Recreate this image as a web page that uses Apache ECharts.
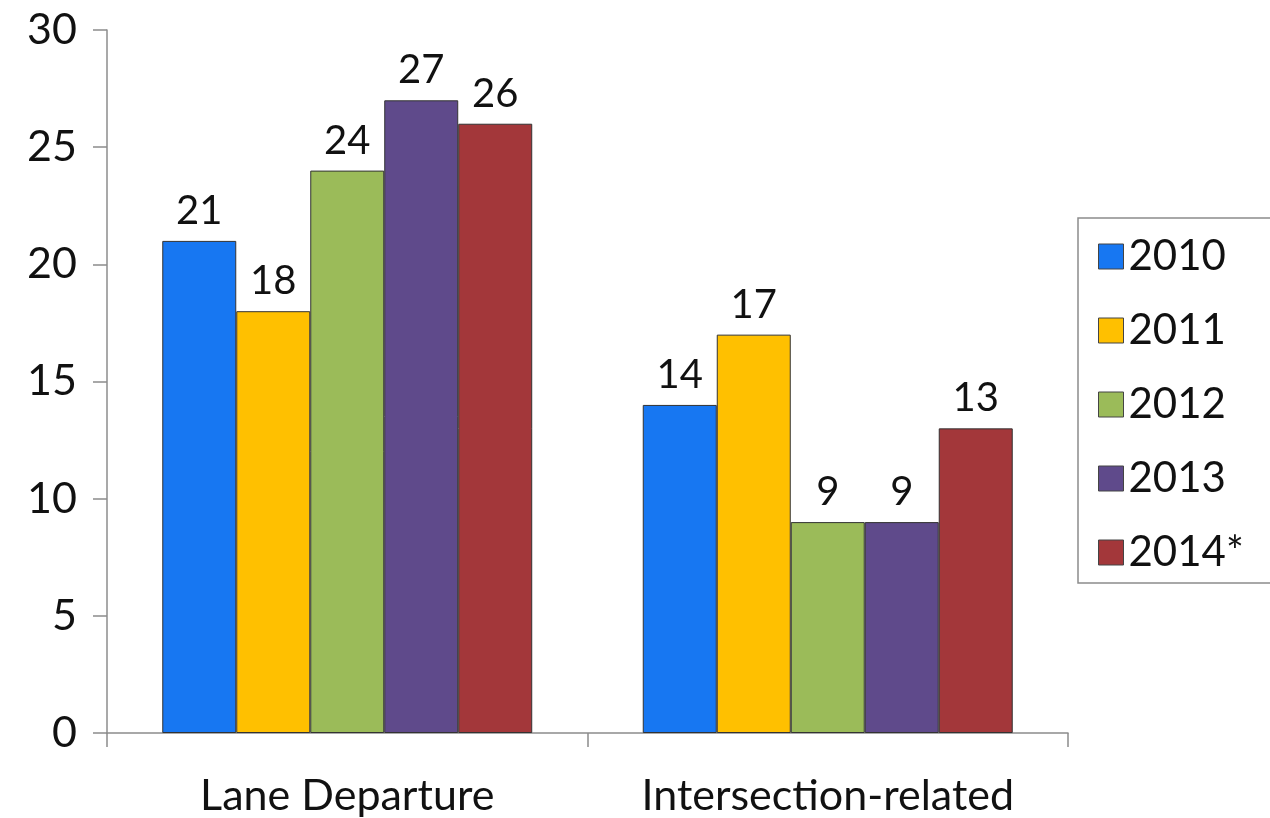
<!DOCTYPE html>
<html>
<head>
<meta charset="utf-8">
<script src="https://cdn.jsdelivr.net/npm/echarts@6/dist/echarts.min.js"></script>
<style>
  html, body { margin: 0; padding: 0; background: #fff; }
  #chart { width: 1270px; height: 818px; }
</style>
</head>
<body>
<div id="chart"></div>
<script>
// Crash counts by category and year
const categories = ['Lane Departure', 'Intersection-related'];
const years = ['2010', '2011', '2012', '2013', '2014*'];
const values2010 = [21, 14];
const values2011 = [18, 17];
const values2012 = [24, 9];
const values2013 = [27, 9];
const values2014 = [26, 13];
const yTicks = [0, 5, 10, 15, 20, 25, 30];

const seriesValues = [values2010, values2011, values2012, values2013, values2014];
const colors = ['#1777f2', '#ffc000', '#9bbb59', '#5f4a8b', '#a3373a'];
const fontFamily = 'Lato, "Open Sans", sans-serif';

const chart = echarts.init(document.getElementById('chart'));
chart.setOption({
  animation: false,
  textStyle: { fontFamily: fontFamily },
  grid: { left: 107, right: 202, top: 30, bottom: 84 },
  legend: {
    orient: 'vertical',
    left: 1078,
    top: 218,
    padding: [16, 30, 8, 20],
    itemWidth: 25,
    itemHeight: 25,
    itemGap: 29,
    borderColor: '#8c8c8c',
    borderWidth: 1.5,
    icon: 'rect',
    itemStyle: { borderColor: '#444', borderWidth: 1 },
    textStyle: { fontSize: 42, color: '#111', lineHeight: 45, fontFamily: fontFamily },
    data: years
  },
  xAxis: {
    type: 'category',
    data: categories,
    axisLine: { lineStyle: { color: '#8c8c8c', width: 1.5 } },
    axisTick: { show: true, length: 14, lineStyle: { color: '#8c8c8c', width: 1.5 } },
    axisLabel: {
      interval: 0,
      hideOverlap: false,
      fontSize: 43,
      color: '#111',
      margin: 42,
      fontFamily: fontFamily
    }
  },
  yAxis: {
    type: 'value',
    min: yTicks[0],
    max: yTicks[yTicks.length - 1],
    interval: 5,
    axisLine: { show: true, lineStyle: { color: '#8c8c8c', width: 1.5 } },
    axisTick: { show: true, length: 14, lineStyle: { color: '#8c8c8c', width: 1.5 } },
    splitLine: { show: false },
    axisLabel: { fontSize: 43, color: '#111', margin: 30, fontFamily: fontFamily }
  },
  series: years.map((y, i) => ({
    name: y,
    type: 'bar',
    data: seriesValues[i],
    barGap: '0%',
    barCategoryGap: '23%',
    itemStyle: { color: colors[i], borderColor: '#333', borderWidth: 1 },
    label: {
      show: true,
      position: 'top',
      distance: 10,
      fontSize: 40,
      color: '#111',
      fontFamily: fontFamily
    }
  }))
});
</script>
</body>
</html>
